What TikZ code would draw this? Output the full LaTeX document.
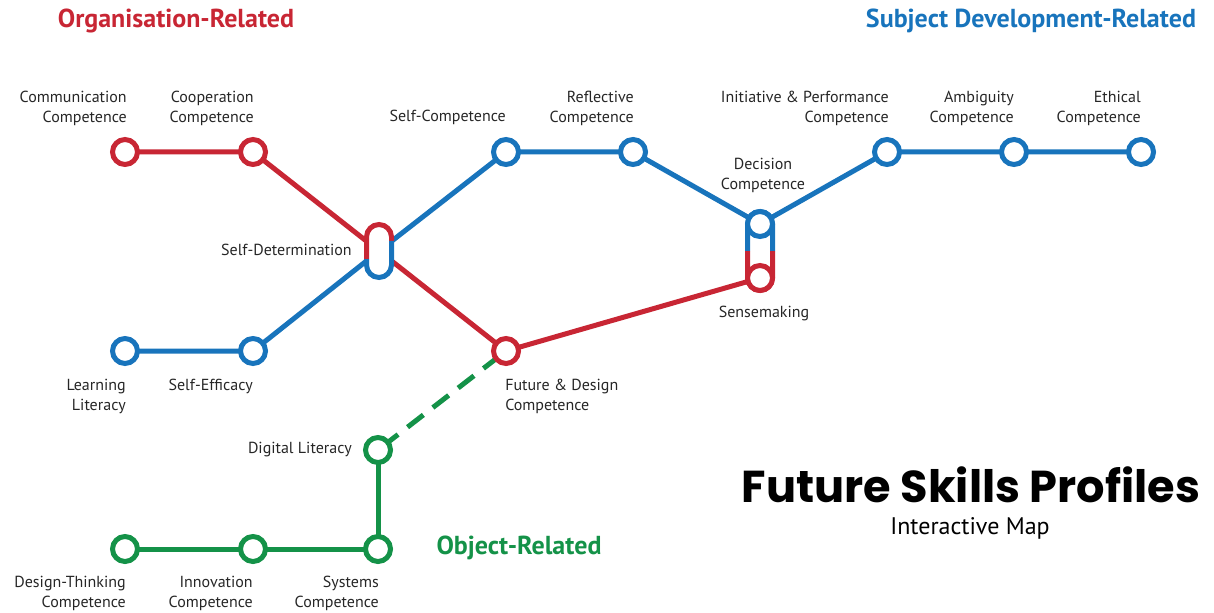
\documentclass[tikz,border=0pt]{standalone}
\usepackage{fontspec}
\setmainfont{PT Sans}
\newfontfamily\titlefont{Poppins}
\usetikzlibrary{backgrounds}
\definecolor{ored}{RGB}{200,38,52}
\definecolor{sblue}{RGB}{24,116,188}
\definecolor{ogreen}{RGB}{20,146,72}
\begin{document}
\begin{tikzpicture}[x=0.75pt,y=-0.75pt,
  stn/.style={circle,line width=3.75pt,fill=white,minimum size=18.75pt,inner sep=0pt},
  rstn/.style={stn,draw=ored},
  bstn/.style={stn,draw=sblue},
  gstn/.style={stn,draw=ogreen},
  rline/.style={line width=3.75pt,draw=ored},
  bline/.style={line width=3.75pt,draw=sblue},
  gline/.style={line width=3.75pt,draw=ogreen},
  lbl/.style={font=\fontsize{12}{15}\selectfont,inner sep=0pt,text=black!85},
  lr/.style={lbl,align=right},
  lc/.style={lbl,align=center},
  ll/.style={lbl,align=left},
  head/.style={font=\fontsize{19.5}{22}\selectfont\bfseries,inner sep=0pt},
  pill/.style={fill=white,minimum width=18.75pt,minimum height=39.75pt,rounded corners=9.3pt,inner sep=0pt}
]
\useasboundingbox (0,0) rectangle (1214,613);

% stations
\node[rstn] (comm) at (125,152) {};
\node[rstn] (coop) at (253,152) {};
\node[pill] (sd) at (379,251) {};
\node[rstn] (fut) at (506,351) {};
\node[bstn] (learn) at (125,351) {};
\node[bstn] (seff) at (253,351) {};
\node[bstn] (selfc) at (506,152) {};
\node[bstn] (refl) at (633,152) {};
\node[pill,minimum height=48pt] (dsp) at (760,251) {};
\node[bstn] (init) at (887,152) {};
\node[bstn] (amb) at (1014,152) {};
\node[bstn] (eth) at (1141,152) {};
\node[gstn] (dig) at (378,450) {};
\node[gstn] (sys) at (378,549) {};
\node[gstn] (inn) at (253,549) {};
\node[gstn] (dt) at (125,549) {};

% pill outlines
\draw[rline] (366.5,259) -- (366.5,237) arc[start angle=180,end angle=360,radius=12.5] -- (391.5,241);
\draw[bline] (391.5,241) -- (391.5,265) arc[start angle=0,end angle=180,radius=12.5] -- (366.5,259);
\draw[bline] (747.5,251) -- (747.5,224) arc[start angle=180,end angle=360,radius=12.5] -- (772.5,251);
\draw[rline] (747.5,251) -- (747.5,278) arc[start angle=180,end angle=0,radius=12.5] -- (772.5,251);
\node[bstn] (dec) at (760,224) {};
\node[rstn] (sense) at (760,278) {};

% lines
\begin{scope}[on background layer]
\draw[rline] (comm.center) -- (coop.center) -- (sd.center) -- (fut.center) -- (sense.center);
\draw[bline] (learn.center) -- (seff.center) -- (sd.center) -- (selfc.center) -- (refl.center) -- (dec.center) -- (init.center) -- (amb.center) -- (eth.center);
\draw[gline] (dt.center) -- (inn.center) -- (sys.center) -- (dig.center);
\draw[gline,dash pattern=on 15pt off 9pt,dash phase=-4pt] (dig.center) -- (fut.center);
\end{scope}

% labels
\node[lr,anchor=east] (l-comm) at (127,108) {Communication\\Competence};
\node[lr,anchor=east] (l-coop) at (254,108) {Cooperation\\Competence};
\node[lr,anchor=east] (l-selfc) at (506,117) {Self-Competence};
\node[lr,anchor=east] (l-refl) at (634,108) {Reflective\\Competence};
\node[lc] (l-dec) at (763,175) {Decision\\Competence};
\node[lr,anchor=east] (l-init) at (889,108) {Initiative \& Performance\\Competence};
\node[lr,anchor=east] (l-amb) at (1014,108) {Ambiguity\\Competence};
\node[lr,anchor=east] (l-eth) at (1141,108) {Ethical\\Competence};
\node[lr,anchor=east] (l-sd) at (352,250) {Self-Determination};
\node[lc] (l-sense) at (764,313) {Sensemaking};
\node[lr,anchor=east] (l-learn) at (126,396) {Learning\\Literacy};
\node[lr,anchor=east] (l-seff) at (253,386) {Self-Efficacy};
\node[ll,anchor=west] (l-fut) at (505,396) {Future \& Design\\Competence};
\node[lr,anchor=east] (l-dig) at (352,450) {Digital Literacy};
\node[lr,anchor=east] (l-dt) at (126,593) {Design-Thinking\\Competence};
\node[lr,anchor=east] (l-inn) at (253,593) {Innovation\\Competence};
\node[lr,anchor=east] (l-sys) at (379,593) {Systems\\Competence};

% headings
\node[head,text=ored] (h-org) at (176,21) {Organisation-Related};
\node[head,text=sblue] (h-subj) at (1031,21) {Subject Development-Related};
\node[head,text=ogreen] (h-obj) at (519,548) {Object-Related};
\node[inner sep=0pt,anchor=base,text height=24pt,text depth=0pt,font=\titlefont\bfseries\fontsize{33.5}{36}\selectfont] (title) at (971,502) {Future Skills Profiles};
\node[inner sep=0pt,anchor=base,text height=12.5pt,font=\fontsize{18}{20}\selectfont] (sub) at (970,534) {Interactive Map};
\end{tikzpicture}
\end{document}
